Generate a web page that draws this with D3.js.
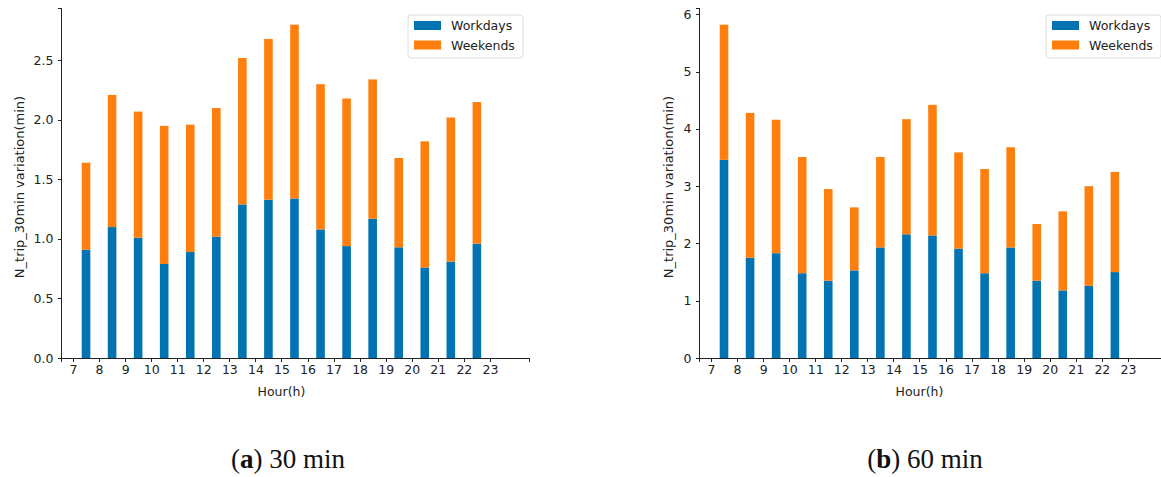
<!DOCTYPE html>
<html>
<head>
    <title>N_trip_30min variation - Workdays vs Weekends</title>
    <script src="https://d3js.org/d3.v7.min.js"></script>
    <style>
        body { margin: 0; background: #fff; }
        .axis path, .axis line { stroke: #222; shape-rendering: crispEdges; }
        .axis text { font-family: "DejaVu Sans", sans-serif; font-size: 12.5px; fill: #222; }
        .axis-title { font-family: "DejaVu Sans", sans-serif; font-size: 12.5px; fill: #222; text-anchor: middle; }
        .y-title { font-size: 13px; }
        .legend text { font-family: "DejaVu Sans", sans-serif; font-size: 12.5px; fill: #222; }
        .caption { font-family: "Liberation Serif", serif; font-size: 27px; fill: #111; text-anchor: middle; }
    </style>
</head>
<body>
<div id="chart"></div>
<script>
    // hours (bar sits at hour + 0.5)
    const hours = [7, 8, 9, 10, 11, 12, 13, 14, 15, 16, 17, 18, 19, 20, 21, 22];
    const xTickLabels = [7, 8, 9, 10, 11, 12, 13, 14, 15, 16, 17, 18, 19, 20, 21, 22, 23];

    // (a) 30 min
    const workdays30 = [0.91, 1.10, 1.01, 0.79, 0.89, 1.02, 1.29, 1.33, 1.34, 1.08, 0.94, 1.17, 0.93, 0.76, 0.81, 0.96];
    const weekends30 = [0.73, 1.11, 1.06, 1.16, 1.07, 1.08, 1.23, 1.35, 1.46, 1.22, 1.24, 1.17, 0.75, 1.06, 1.21, 1.19];
    const yTicks30 = [0, 0.5, 1.0, 1.5, 2.0, 2.5];

    // (b) 60 min
    const workdays60 = [3.46, 1.75, 1.83, 1.48, 1.35, 1.53, 1.93, 2.16, 2.14, 1.91, 1.48, 1.93, 1.35, 1.18, 1.26, 1.50];
    const weekends60 = [2.36, 2.53, 2.33, 2.03, 1.60, 1.10, 1.58, 2.01, 2.28, 1.68, 1.82, 1.75, 0.99, 1.38, 1.74, 1.75];
    const yTicks60 = [0, 1, 2, 3, 4, 5, 6];

    const seriesNames = ["Workdays", "Weekends"];
    const colors = ["#0173b2", "#ff7f0e"];

    const W = 1161, H = 477;
    const plotW = 468, plotH = 350;

    const svg = d3.select("#chart").append("svg")
        .attr("width", W)
        .attr("height", H);

    function drawPanel(left, workdays, weekends, yTicks, tickFmt, yLabelOffset, caption, captionX) {
        const g = svg.append("g").attr("transform", `translate(${left},8)`);

        const x = d3.scaleLinear().domain([6.54, 24.5]).range([0, plotW]);
        const total = workdays.map((d, i) => d + weekends[i]);
        const y = d3.scaleLinear().domain([0, d3.max(total) * 1.05]).range([plotH, 0]);
        const barW = x(7.33) - x(7);

        const rows = hours.map((h, i) => ({ h: h, wd: workdays[i], we: weekends[i] }));

        // workdays (bottom)
        g.selectAll(".bar-wd").data(rows).enter().append("rect")
            .attr("class", "bar-wd")
            .attr("x", d => x(d.h + 0.5) - barW / 2)
            .attr("width", barW)
            .attr("y", d => y(d.wd))
            .attr("height", d => y(0) - y(d.wd))
            .attr("fill", colors[0]);

        // weekends stacked on top
        g.selectAll(".bar-we").data(rows).enter().append("rect")
            .attr("class", "bar-we")
            .attr("x", d => x(d.h + 0.5) - barW / 2)
            .attr("width", barW)
            .attr("y", d => y(d.wd + d.we))
            .attr("height", d => y(d.wd) - y(d.wd + d.we))
            .attr("fill", colors[1]);

        g.append("g")
            .attr("class", "axis")
            .attr("transform", `translate(0,${plotH})`)
            .call(d3.axisBottom(x).tickValues(xTickLabels).tickFormat(d3.format("d"))
                .tickSizeOuter(0).tickSize(3.5).tickPadding(4));

        g.append("g")
            .attr("class", "axis")
            .call(d3.axisLeft(y).tickValues(yTicks).tickFormat(tickFmt)
                .tickSizeOuter(0).tickSize(3.5).tickPadding(4));

        g.append("text")
            .attr("class", "axis-title")
            .attr("x", x(15))
            .attr("y", plotH + 38)
            .text("Hour(h)");

        g.append("text")
            .attr("class", "axis-title y-title")
            .attr("transform", "rotate(-90)")
            .attr("x", -179)
            .attr("y", yLabelOffset)
            .text("N_trip_30min variation(min)");

        // legend
        const lg = g.append("g").attr("class", "legend")
            .attr("transform", `translate(${plotW - 121},7)`);
        lg.append("rect")
            .attr("width", 115).attr("height", 43).attr("rx", 3)
            .attr("fill", "#fff").attr("stroke", "#ddd");
        seriesNames.forEach((name, i) => {
            lg.append("rect")
                .attr("x", 6).attr("y", 6 + i * 19.5)
                .attr("width", 27).attr("height", 9)
                .attr("fill", colors[i]);
            lg.append("text")
                .attr("x", 43).attr("y", 15 + i * 19.5)
                .text(name);
        });

        const cap = svg.append("text")
            .attr("class", "caption")
            .attr("x", captionX)
            .attr("y", 468);
        cap.append("tspan").text("(");
        cap.append("tspan").attr("font-weight", "bold").text(caption[0]);
        cap.append("tspan").text(") " + caption[1]);
    }

    drawPanel(61, workdays30, weekends30, yTicks30, d3.format(".1f"), -37, ["a", "30 min"], 288);
    drawPanel(699, workdays60, weekends60, yTicks60, d3.format("d"), -26, ["b", "60 min"], 925);
</script>
</body>
</html>
